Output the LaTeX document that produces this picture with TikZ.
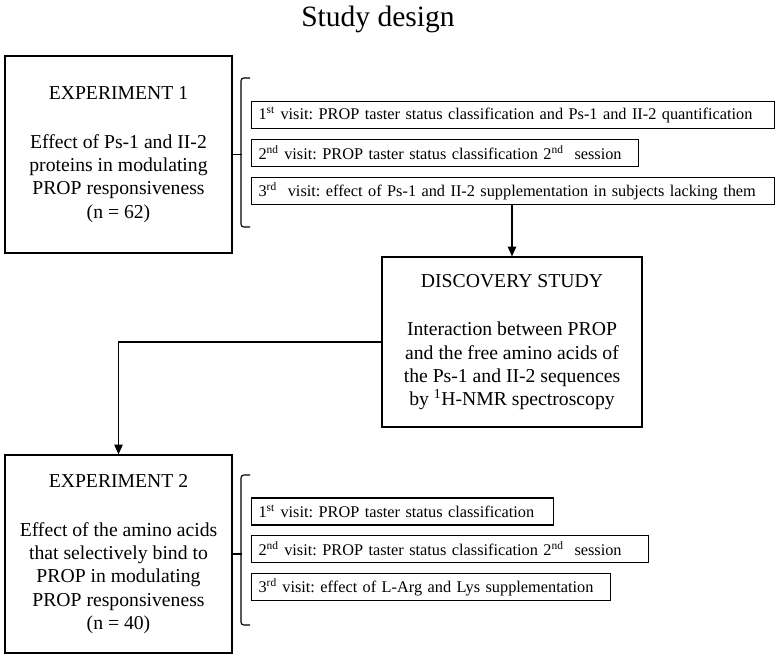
\documentclass[tikz,border=0pt]{standalone}
\usepackage{fontspec}
\setmainfont{Liberation Serif}
\usetikzlibrary{arrows.meta}
\frenchspacing

\begin{document}
\begin{tikzpicture}[
  bigbox/.style={draw, line width=0.8pt, align=center, font=\fontsize{14}{16.6}\selectfont, minimum width=5.675cm},
  visit/.style={draw, line width=0.8pt, anchor=west, align=left, inner xsep=5pt, inner ysep=0pt, minimum height=0.675cm, font=\fontsize{11.6}{14}\selectfont},
  brace/.style={line width=0.8pt, rounded corners=2pt},
  arrow/.style={line width=0.8pt, -{Triangle[length=7pt,width=6pt]}}
]
\useasboundingbox (0,0) rectangle (19.4,16.475);

\node[anchor=base, font=\fontsize{21}{25}\selectfont] (title) at (9.45,15.8) {Study design};

% experiment 1
{
\node[bigbox, minimum height=4.925cm] (exp1) at (2.9625,12.6125) {EXPERIMENT 1\\[18pt]Effect of Ps-1 and II-2\\proteins in modulating\\PROP responsiveness\\(n = 62)};

\draw[brace] (6.25,14.525) -| (6.025,10.8) -- (6.25,10.8);
\draw[brace] (exp1.east) -- ++(0.225,0);

\node[visit, text width=12.72cm] (v11) at (6.275,13.6) {\mbox{1\textsuperscript{st} visit: PROP taster status classification and Ps-1 and II-2 quantification}};
\node[visit, text width=9.32cm] (v12) at (6.275,12.65) {\mbox{2\textsuperscript{nd} visit: PROP taster status classification 2\textsuperscript{nd}\ \ session}};
\node[visit, text width=12.72cm] (v13) at (6.275,11.7) {\mbox{3\textsuperscript{rd}\ \ visit: effect of Ps-1 and II-2 supplementation in subjects lacking them}};
}

% discovery study
\node[bigbox, minimum width=6.5cm, minimum height=4.25cm] (disc) at (12.8,7.925) {DISCOVERY STUDY\\[18pt]Interaction between PROP\\and the free amino acids of\\the Ps-1 and II-2 sequences\\by \textsuperscript{1}H-NMR spectroscopy};

% experiment 2
{
\node[bigbox, minimum height=4.95cm] (exp2) at (2.9625,2.625) {EXPERIMENT 2\\[18pt]Effect of the amino acids\\that selectively bind to\\PROP in modulating\\PROP responsiveness\\(n = 40)};

\draw[brace] (6.25,4.6) -| (6.025,0.85) -- (6.25,0.85);
\draw[brace] (exp2.east) -- ++(0.225,0);

\node[visit, text width=7.2cm] (v21) at (6.275,3.6875) {\mbox{1\textsuperscript{st} visit: PROP taster status classification}};
\node[visit, text width=9.57cm] (v22) at (6.275,2.75) {\mbox{2\textsuperscript{nd} visit: PROP taster status classification 2\textsuperscript{nd}\ \ session}};
\node[visit, text width=8.62cm] (v23) at (6.275,1.8) {\mbox{3\textsuperscript{rd} visit: effect of L-Arg and Lys supplementation}};
}

% arrows
\draw[arrow] (v13.south -| disc.north) -- (disc.north);
\draw[arrow] (disc.west) -| (exp2.north);

\end{tikzpicture}
\end{document}
